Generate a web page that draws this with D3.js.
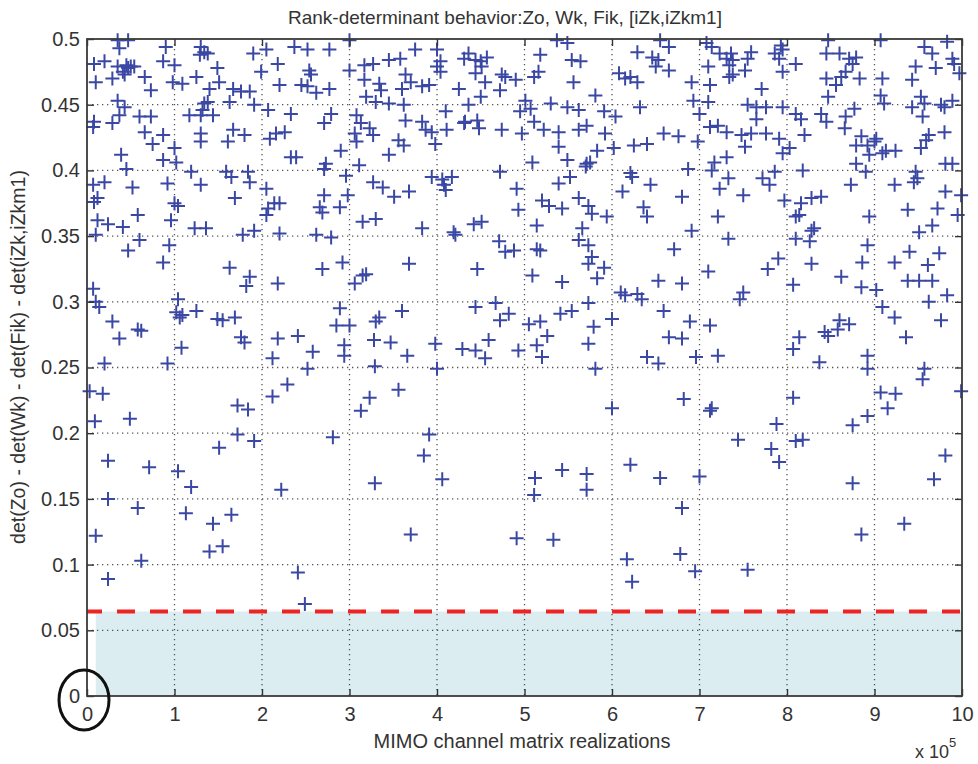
<!DOCTYPE html>
<html>
<head>
<meta charset="utf-8">
<script src="https://cdn.jsdelivr.net/npm/d3@7"></script>
<style>
  body { margin: 0; background: #fff; }
  text { font-family: "Liberation Sans", Arial, sans-serif; fill: #333; }
</style>
</head>
<body>
<div id="chart"></div>
<script>
// realizations in units of 1e5, value = det(Zo) - det(Wk) - det(Fik) - det(iZk,iZkm1)
var ptsUpperLeft = [
  [0.35,0.499],[0.47,0.499],[0.37,0.493],[0.90,0.494],[1.30,0.494],[1.34,0.490],[1.29,0.488],[1.38,0.489],
  [1.90,0.489],[2.05,0.492],[2.37,0.494],[2.52,0.492],[2.77,0.492],[3.00,0.499],[0.08,0.481],[0.20,0.483],
  [0.35,0.479],[0.45,0.480],[0.50,0.479],[0.41,0.475],[0.47,0.478],[0.54,0.479],[0.87,0.483],[1.00,0.480],
  [1.49,0.478],[2.18,0.481],[1.99,0.475],[2.54,0.476],[2.56,0.473],[3.00,0.476],[3.17,0.480],[3.27,0.481],
  [0.10,0.467],[0.29,0.470],[0.43,0.473],[0.66,0.471],[0.98,0.467],[1.09,0.466],[1.25,0.471],[1.51,0.467],
  [1.40,0.462],[1.67,0.462],[1.76,0.460],[1.86,0.460],[2.20,0.465],[2.45,0.465],[2.52,0.464],[2.62,0.459],
  [2.77,0.462],[3.17,0.469],[3.34,0.466],[3.36,0.461],[0.73,0.461],[3.19,0.456],[3.30,0.452],[0.35,0.453],
  [0.43,0.448],[0.37,0.442],[1.34,0.451],[1.38,0.452],[1.63,0.452],[1.91,0.450],[2.07,0.446],[2.33,0.443],
  [2.79,0.443],[2.71,0.436],[3.08,0.442],[3.13,0.436],[3.23,0.432],[3.27,0.427],[0.08,0.437],[0.07,0.433],
  [0.29,0.436],[0.60,0.441],[0.73,0.441],[1.17,0.442],[1.30,0.442],[1.44,0.442],[1.32,0.446],[0.66,0.429],
  [0.87,0.427],[0.75,0.420],[1.30,0.428],[1.30,0.422],[1.67,0.431],[1.80,0.427],[1.61,0.422],[2.09,0.424],
  [2.16,0.428],[2.26,0.429],[3.06,0.428],[3.08,0.422],[1.00,0.417],[2.90,0.415],[0.39,0.412],[0.45,0.401],
  [0.87,0.408],[1.02,0.406],[2.33,0.410],[2.39,0.410],[2.73,0.405],[2.71,0.401],[3.11,0.404],[1.19,0.399],
  [1.59,0.399],[1.65,0.395],[1.84,0.399],[1.86,0.391],[2.96,0.396],[3.27,0.391],[3.38,0.387],[0.07,0.389],
  [0.20,0.391],[0.52,0.387],[0.92,0.390],[1.30,0.389],[2.05,0.386],[1.69,0.379],[0.12,0.379],[0.08,0.376],
  [2.71,0.381],[2.98,0.381],[1.00,0.375],[1.04,0.373],[2.14,0.375],[2.20,0.375],[2.07,0.371],[2.66,0.372],
  [2.69,0.368],[2.89,0.372],[0.58,0.366],[0.96,0.362],[2.05,0.366],[0.12,0.362],[0.24,0.359],[0.41,0.357],
  [3.15,0.361],[3.30,0.363],[1.23,0.356],[1.36,0.356],[1.78,0.351],[1.91,0.354],[2.20,0.352],[2.62,0.351],
  [2.79,0.349],[0.10,0.351],[0.60,0.347],[0.47,0.339],[0.94,0.343],[0.87,0.330],[1.63,0.326],[1.86,0.319],
  [1.82,0.312],[2.18,0.314],[2.69,0.325],[2.92,0.330],[3.15,0.320],[3.06,0.314],[3.19,0.321],[0.07,0.310],
  [1.04,0.302],[0.10,0.300],[0.14,0.296],[1.02,0.292],[1.09,0.290],[1.06,0.288],[1.25,0.293],[1.49,0.287],
  [1.55,0.286],[1.69,0.288],[2.89,0.295],[2.85,0.282],[3.00,0.282],[3.34,0.288],[3.30,0.285],[0.29,0.285],
  [0.58,0.279],[0.62,0.278],[0.37,0.272],[1.76,0.273],[1.80,0.269],[2.18,0.272],[2.41,0.274],[3.28,0.271],
  [1.08,0.265],[2.58,0.262],[2.94,0.267],[2.94,0.259],[0.20,0.253],[0.92,0.253],[2.12,0.257]
];
var ptsUpperMid = [
  [3.75,0.492],[4.00,0.492],[3.58,0.485],[3.45,0.484],[4.04,0.483],[4.00,0.479],[4.31,0.485],[4.36,0.489],
  [4.44,0.484],[4.50,0.483],[4.57,0.486],[4.51,0.479],[5.18,0.488],[5.37,0.499],[5.49,0.497],[5.54,0.484],
  [5.64,0.483],[6.29,0.490],[6.46,0.486],[6.55,0.499],[6.65,0.494],[6.53,0.484],[6.50,0.479],[6.65,0.476],
  [3.64,0.473],[3.70,0.467],[3.60,0.462],[3.83,0.464],[3.91,0.465],[4.04,0.475],[4.44,0.474],[4.55,0.467],
  [4.74,0.473],[4.78,0.471],[4.90,0.469],[4.72,0.461],[5.11,0.471],[5.16,0.475],[5.56,0.467],[6.08,0.474],
  [6.15,0.470],[6.21,0.471],[6.29,0.467],[4.25,0.462],[4.50,0.456],[5.81,0.457],[3.45,0.451],[3.62,0.450],
  [4.10,0.445],[4.36,0.450],[5.01,0.453],[5.07,0.447],[4.95,0.445],[5.30,0.451],[5.49,0.448],[5.62,0.446],
  [5.91,0.445],[6.04,0.441],[6.32,0.448],[3.64,0.438],[3.83,0.437],[3.87,0.431],[3.94,0.429],[4.11,0.431],
  [4.32,0.437],[4.46,0.438],[4.48,0.432],[4.31,0.436],[5.11,0.437],[5.22,0.431],[5.39,0.429],[5.62,0.431],
  [5.71,0.434],[5.92,0.428],[4.74,0.431],[4.97,0.428],[6.59,0.428],[6.76,0.426],[3.56,0.423],[3.62,0.419],
  [3.98,0.420],[5.39,0.418],[5.83,0.415],[6.02,0.417],[6.25,0.419],[6.40,0.420],[3.45,0.412],[5.09,0.406],
  [5.49,0.408],[5.71,0.405],[5.75,0.406],[5.70,0.403],[4.72,0.399],[3.94,0.395],[4.06,0.393],[4.17,0.395],
  [4.10,0.385],[4.08,0.389],[5.52,0.395],[5.39,0.390],[6.21,0.398],[6.23,0.395],[6.44,0.389],[3.68,0.384],
  [3.51,0.380],[4.91,0.386],[6.12,0.384],[6.80,0.380],[5.20,0.377],[5.28,0.373],[5.43,0.371],[5.62,0.379],
  [5.73,0.373],[5.77,0.367],[5.94,0.365],[4.93,0.370],[6.36,0.372],[6.40,0.365],[4.42,0.359],[4.51,0.361],
  [5.14,0.358],[3.83,0.356],[4.19,0.353],[4.21,0.351],[5.66,0.356],[5.62,0.347],[5.73,0.343],[4.71,0.346],
  [4.78,0.338],[4.88,0.339],[5.14,0.340],[5.18,0.339],[6.71,0.340],[3.68,0.329],[4.46,0.325],[5.77,0.334],
  [5.73,0.329],[5.91,0.326],[5.83,0.318],[5.09,0.320],[5.43,0.315],[6.53,0.316],[6.10,0.307],[6.15,0.305],
  [6.29,0.306],[6.34,0.302],[6.80,0.314],[3.60,0.293],[4.44,0.296],[4.67,0.299],[4.82,0.291],[4.72,0.286],
  [5.41,0.291],[5.54,0.293],[5.73,0.299],[6.00,0.287],[6.59,0.293],[5.05,0.283],[5.18,0.285],[5.26,0.274],
  [5.79,0.281],[3.47,0.269],[3.98,0.268],[4.29,0.264],[4.44,0.263],[4.59,0.271],[4.93,0.263],[5.14,0.267],
  [5.73,0.268],[6.65,0.273],[6.80,0.272],[3.66,0.259],[4.55,0.257],[5.20,0.258],[6.40,0.258],[6.53,0.253]
];
var ptsUpperRight = [
  [7.08,0.497],[7.14,0.494],[7.23,0.489],[7.31,0.485],[7.36,0.489],[7.38,0.484],[7.34,0.480],[7.55,0.485],
  [7.59,0.490],[7.86,0.489],[7.93,0.495],[7.91,0.485],[7.95,0.492],[8.10,0.481],[8.47,0.499],[8.45,0.489],
  [8.60,0.489],[8.71,0.485],[8.75,0.481],[8.79,0.486],[8.67,0.475],[9.07,0.499],[9.57,0.494],[9.66,0.489],
  [9.83,0.498],[9.89,0.485],[9.91,0.481],[7.10,0.479],[7.52,0.476],[7.38,0.473],[7.34,0.471],[7.95,0.475],
  [8.45,0.470],[8.56,0.465],[8.83,0.470],[8.62,0.471],[9.09,0.470],[9.47,0.479],[9.43,0.469],[9.70,0.478],
  [9.97,0.474],[6.91,0.467],[7.12,0.465],[7.71,0.462],[8.47,0.456],[9.07,0.457],[9.11,0.451],[9.53,0.456],
  [9.57,0.451],[6.93,0.453],[7.10,0.452],[7.00,0.443],[7.55,0.450],[7.65,0.448],[7.76,0.448],[7.95,0.448],
  [8.10,0.443],[8.16,0.439],[8.39,0.443],[8.45,0.437],[8.67,0.441],[8.77,0.447],[8.66,0.432],[9.43,0.448],
  [9.55,0.441],[9.76,0.450],[9.80,0.448],[9.89,0.453],[7.12,0.433],[7.21,0.434],[7.31,0.429],[7.48,0.427],
  [7.65,0.439],[7.59,0.428],[7.76,0.428],[7.91,0.424],[8.20,0.427],[8.85,0.426],[9.02,0.424],[9.00,0.422],
  [8.92,0.419],[8.79,0.419],[9.62,0.427],[9.59,0.423],[9.80,0.429],[6.98,0.422],[7.52,0.418],[7.95,0.413],
  [8.03,0.417],[7.31,0.410],[8.94,0.412],[9.09,0.413],[9.24,0.415],[9.13,0.415],[9.53,0.417],[7.17,0.406],
  [7.14,0.400],[6.87,0.401],[7.33,0.394],[7.23,0.386],[7.72,0.394],[7.80,0.389],[7.86,0.399],[8.18,0.400],
  [8.79,0.405],[8.90,0.399],[9.47,0.399],[9.49,0.394],[9.45,0.391],[9.81,0.405],[9.89,0.405],[8.73,0.389],
  [9.23,0.389],[9.81,0.384],[9.99,0.381],[7.50,0.381],[7.97,0.377],[8.16,0.375],[8.28,0.379],[8.39,0.380],
  [9.38,0.370],[9.72,0.371],[9.95,0.366],[7.21,0.365],[8.10,0.365],[8.14,0.366],[8.94,0.365],[8.31,0.356],
  [8.28,0.354],[6.91,0.354],[7.33,0.348],[8.10,0.348],[8.26,0.346],[9.51,0.353],[9.66,0.358],[8.92,0.343],
  [9.40,0.338],[9.74,0.337],[9.23,0.330],[7.90,0.333],[7.78,0.325],[8.28,0.329],[8.86,0.330],[9.61,0.328],
  [7.10,0.323],[8.62,0.319],[9.38,0.316],[9.51,0.316],[9.66,0.316],[7.50,0.307],[7.46,0.302],[8.07,0.313],
  [8.85,0.311],[9.02,0.309],[9.83,0.305],[9.62,0.300],[9.09,0.296],[9.23,0.288],[9.76,0.286],[6.89,0.285],
  [7.12,0.282],[8.60,0.286],[8.71,0.283],[8.58,0.279],[8.43,0.277],[8.47,0.274],[8.14,0.273],[8.07,0.264],
  [9.36,0.273],[6.96,0.258],[7.21,0.259],[8.37,0.254],[8.92,0.259]
];
var ptsLowerLeft = [
  [2.52,0.249],[3.29,0.251],[0.03,0.232],[0.18,0.230],[2.29,0.237],[2.12,0.228],[3.23,0.227],[1.72,0.221],
  [1.84,0.218],[3.13,0.217],[0.09,0.209],[0.49,0.211],[1.72,0.199],[1.91,0.194],[1.51,0.189],[2.81,0.197],
  [0.24,0.179],[0.71,0.174],[1.04,0.171],[1.19,0.159],[2.22,0.157],[3.29,0.162],[0.24,0.150],[0.58,0.143],
  [1.13,0.139],[1.65,0.138],[1.44,0.131],[0.10,0.122],[1.55,0.114],[1.40,0.110],[0.62,0.103],[0.24,0.089],
  [2.41,0.094],[2.49,0.070]
];
var ptsLowerMid = [
  [4.00,0.249],[5.81,0.249],[3.56,0.233],[6.00,0.219],[6.82,0.226],[3.91,0.199],[3.85,0.183],[4.06,0.165],
  [5.12,0.166],[5.43,0.172],[5.71,0.169],[5.71,0.157],[5.11,0.153],[6.21,0.176],[6.55,0.166],[6.80,0.143],
  [3.70,0.123],[4.91,0.120],[5.33,0.119],[6.17,0.104],[6.23,0.087],[6.78,0.108]
];
var ptsLowerRight = [
  [8.92,0.249],[9.57,0.249],[9.55,0.241],[8.07,0.227],[7.14,0.219],[7.12,0.217],[9.07,0.231],[9.24,0.230],
  [9.15,0.219],[8.92,0.213],[8.75,0.206],[9.99,0.232],[7.88,0.207],[7.44,0.195],[8.10,0.194],[8.18,0.195],
  [7.82,0.188],[7.91,0.178],[9.81,0.183],[7.00,0.167],[8.75,0.162],[9.68,0.165],[9.34,0.131],[8.85,0.123],
  [6.95,0.095],[7.55,0.096]
];

var xTicks = [0, 1, 2, 3, 4, 5, 6, 7, 8, 9, 10];
var yTicks = [0, 0.05, 0.1, 0.15, 0.2, 0.25, 0.3, 0.35, 0.4, 0.45, 0.5];
var yTickLabels = ["0", "0.05", "0.1", "0.15", "0.2", "0.25", "0.3", "0.35", "0.4", "0.45", "0.5"];
var threshold = 0.0643;
var bandStart = 0.1;

var titleText = "Rank-determinant behavior:Zo, Wk, Fik, [iZk,iZkm1]";
var xLabelText = "MIMO channel matrix realizations";
var yLabelText = "det(Zo) - det(Wk) - det(Fik) - det(iZk,iZkm1)";

var W = 978, H = 764;
var margin = {top: 39, right: 16, bottom: 68, left: 87};
var w = W - margin.left - margin.right;
var h = H - margin.top - margin.bottom;

var svg = d3.select("#chart").append("svg")
  .attr("width", W)
  .attr("height", H);

var g = svg.append("g")
  .attr("transform", "translate(" + margin.left + "," + margin.top + ")");

var x = d3.scaleLinear().domain([0, 10]).range([0, w]);
var y = d3.scaleLinear().domain([0, 0.5]).range([h, 0]);

// shaded region below threshold
g.append("rect")
  .attr("x", x(bandStart))
  .attr("y", y(threshold))
  .attr("width", x(10) - x(bandStart))
  .attr("height", y(0) - y(threshold))
  .style("fill", "#dcedf1");

// dotted grid
g.selectAll(".vgrid")
  .data(xTicks.slice(1, -1))
  .enter().append("line")
  .attr("x1", function(d) { return x(d); })
  .attr("x2", function(d) { return x(d); })
  .attr("y1", 0)
  .attr("y2", h)
  .style("stroke", "#555")
  .style("stroke-width", 1.3)
  .style("stroke-dasharray", "1.3,3.7");

g.selectAll(".hgrid")
  .data(yTicks.slice(1, -1))
  .enter().append("line")
  .attr("x1", 0)
  .attr("x2", w)
  .attr("y1", function(d) { return y(d); })
  .attr("y2", function(d) { return y(d); })
  .style("stroke", "#555")
  .style("stroke-width", 1.3)
  .style("stroke-dasharray", "1.3,3.7");

// threshold line
g.append("line")
  .attr("x1", x(0))
  .attr("x2", x(10))
  .attr("y1", y(threshold))
  .attr("y2", y(threshold))
  .style("stroke", "#ee2424")
  .style("stroke-width", 4)
  .style("stroke-dasharray", "18,15")
  .style("stroke-dashoffset", 3);

// plus markers
var points = [].concat(ptsUpperLeft, ptsUpperMid, ptsUpperRight, ptsLowerLeft, ptsLowerMid, ptsLowerRight);
var arm = 7;
g.selectAll(".pt")
  .data(points)
  .enter().append("path")
  .attr("class", "pt")
  .attr("d", function(d) {
    var cx = x(d[0]), cy = y(d[1]);
    return "M" + (cx - arm) + "," + cy + "H" + (cx + arm) +
           "M" + cx + "," + (cy - arm) + "V" + (cy + arm);
  })
  .style("stroke", "#3a48a4")
  .style("stroke-width", 2)
  .style("fill", "none");

// axes with inward ticks
var axisStyle = function(sel) {
  sel.select(".domain").remove();
  sel.selectAll(".tick line").style("stroke", "#333").style("stroke-width", 1.4);
  sel.selectAll("text").style("font-size", "20px").style("fill", "#333")
    .style("font-family", "'Liberation Sans', Arial, sans-serif");
};

g.append("g")
  .attr("transform", "translate(0," + h + ")")
  .call(d3.axisBottom(x).tickValues(xTicks).tickSize(-7).tickPadding(11).tickFormat(d3.format("d")))
  .call(axisStyle);

g.append("g")
  .call(d3.axisTop(x).tickValues(xTicks).tickSize(-7).tickFormat(""))
  .call(axisStyle);

g.append("g")
  .call(d3.axisLeft(y).tickValues(yTicks).tickSize(-7).tickPadding(7)
    .tickFormat(function(d, i) { return yTickLabels[i]; }))
  .call(axisStyle);

g.append("g")
  .attr("transform", "translate(" + w + ",0)")
  .call(d3.axisRight(y).tickValues(yTicks).tickSize(-7).tickFormat(""))
  .call(axisStyle);

// box
g.append("rect")
  .attr("x", 0).attr("y", 0)
  .attr("width", w).attr("height", h)
  .style("fill", "none")
  .style("stroke", "#3a3a3a")
  .style("stroke-width", 1.8);

// texts
svg.append("text")
  .attr("x", 505).attr("y", 24)
  .attr("text-anchor", "middle")
  .style("font-size", "19px")
  .text(titleText);

svg.append("text")
  .attr("x", 522).attr("y", 748)
  .attr("text-anchor", "middle")
  .style("font-size", "20px")
  .text(xLabelText);

svg.append("text")
  .attr("transform", "translate(25,357) rotate(-90)")
  .attr("text-anchor", "middle")
  .style("font-size", "19.5px")
  .text(yLabelText);

var mult = svg.append("text")
  .attr("x", 915).attr("y", 758)
  .style("font-size", "18px");
mult.append("tspan").text("x 10");
mult.append("tspan").attr("dy", -11).style("font-size", "13px").text("5");

// circle round the origin labels
svg.append("ellipse")
  .attr("cx", 84).attr("cy", 700)
  .attr("rx", 25).attr("ry", 30)
  .style("fill", "none")
  .style("stroke", "#111")
  .style("stroke-width", 3);
</script>
</body>
</html>
